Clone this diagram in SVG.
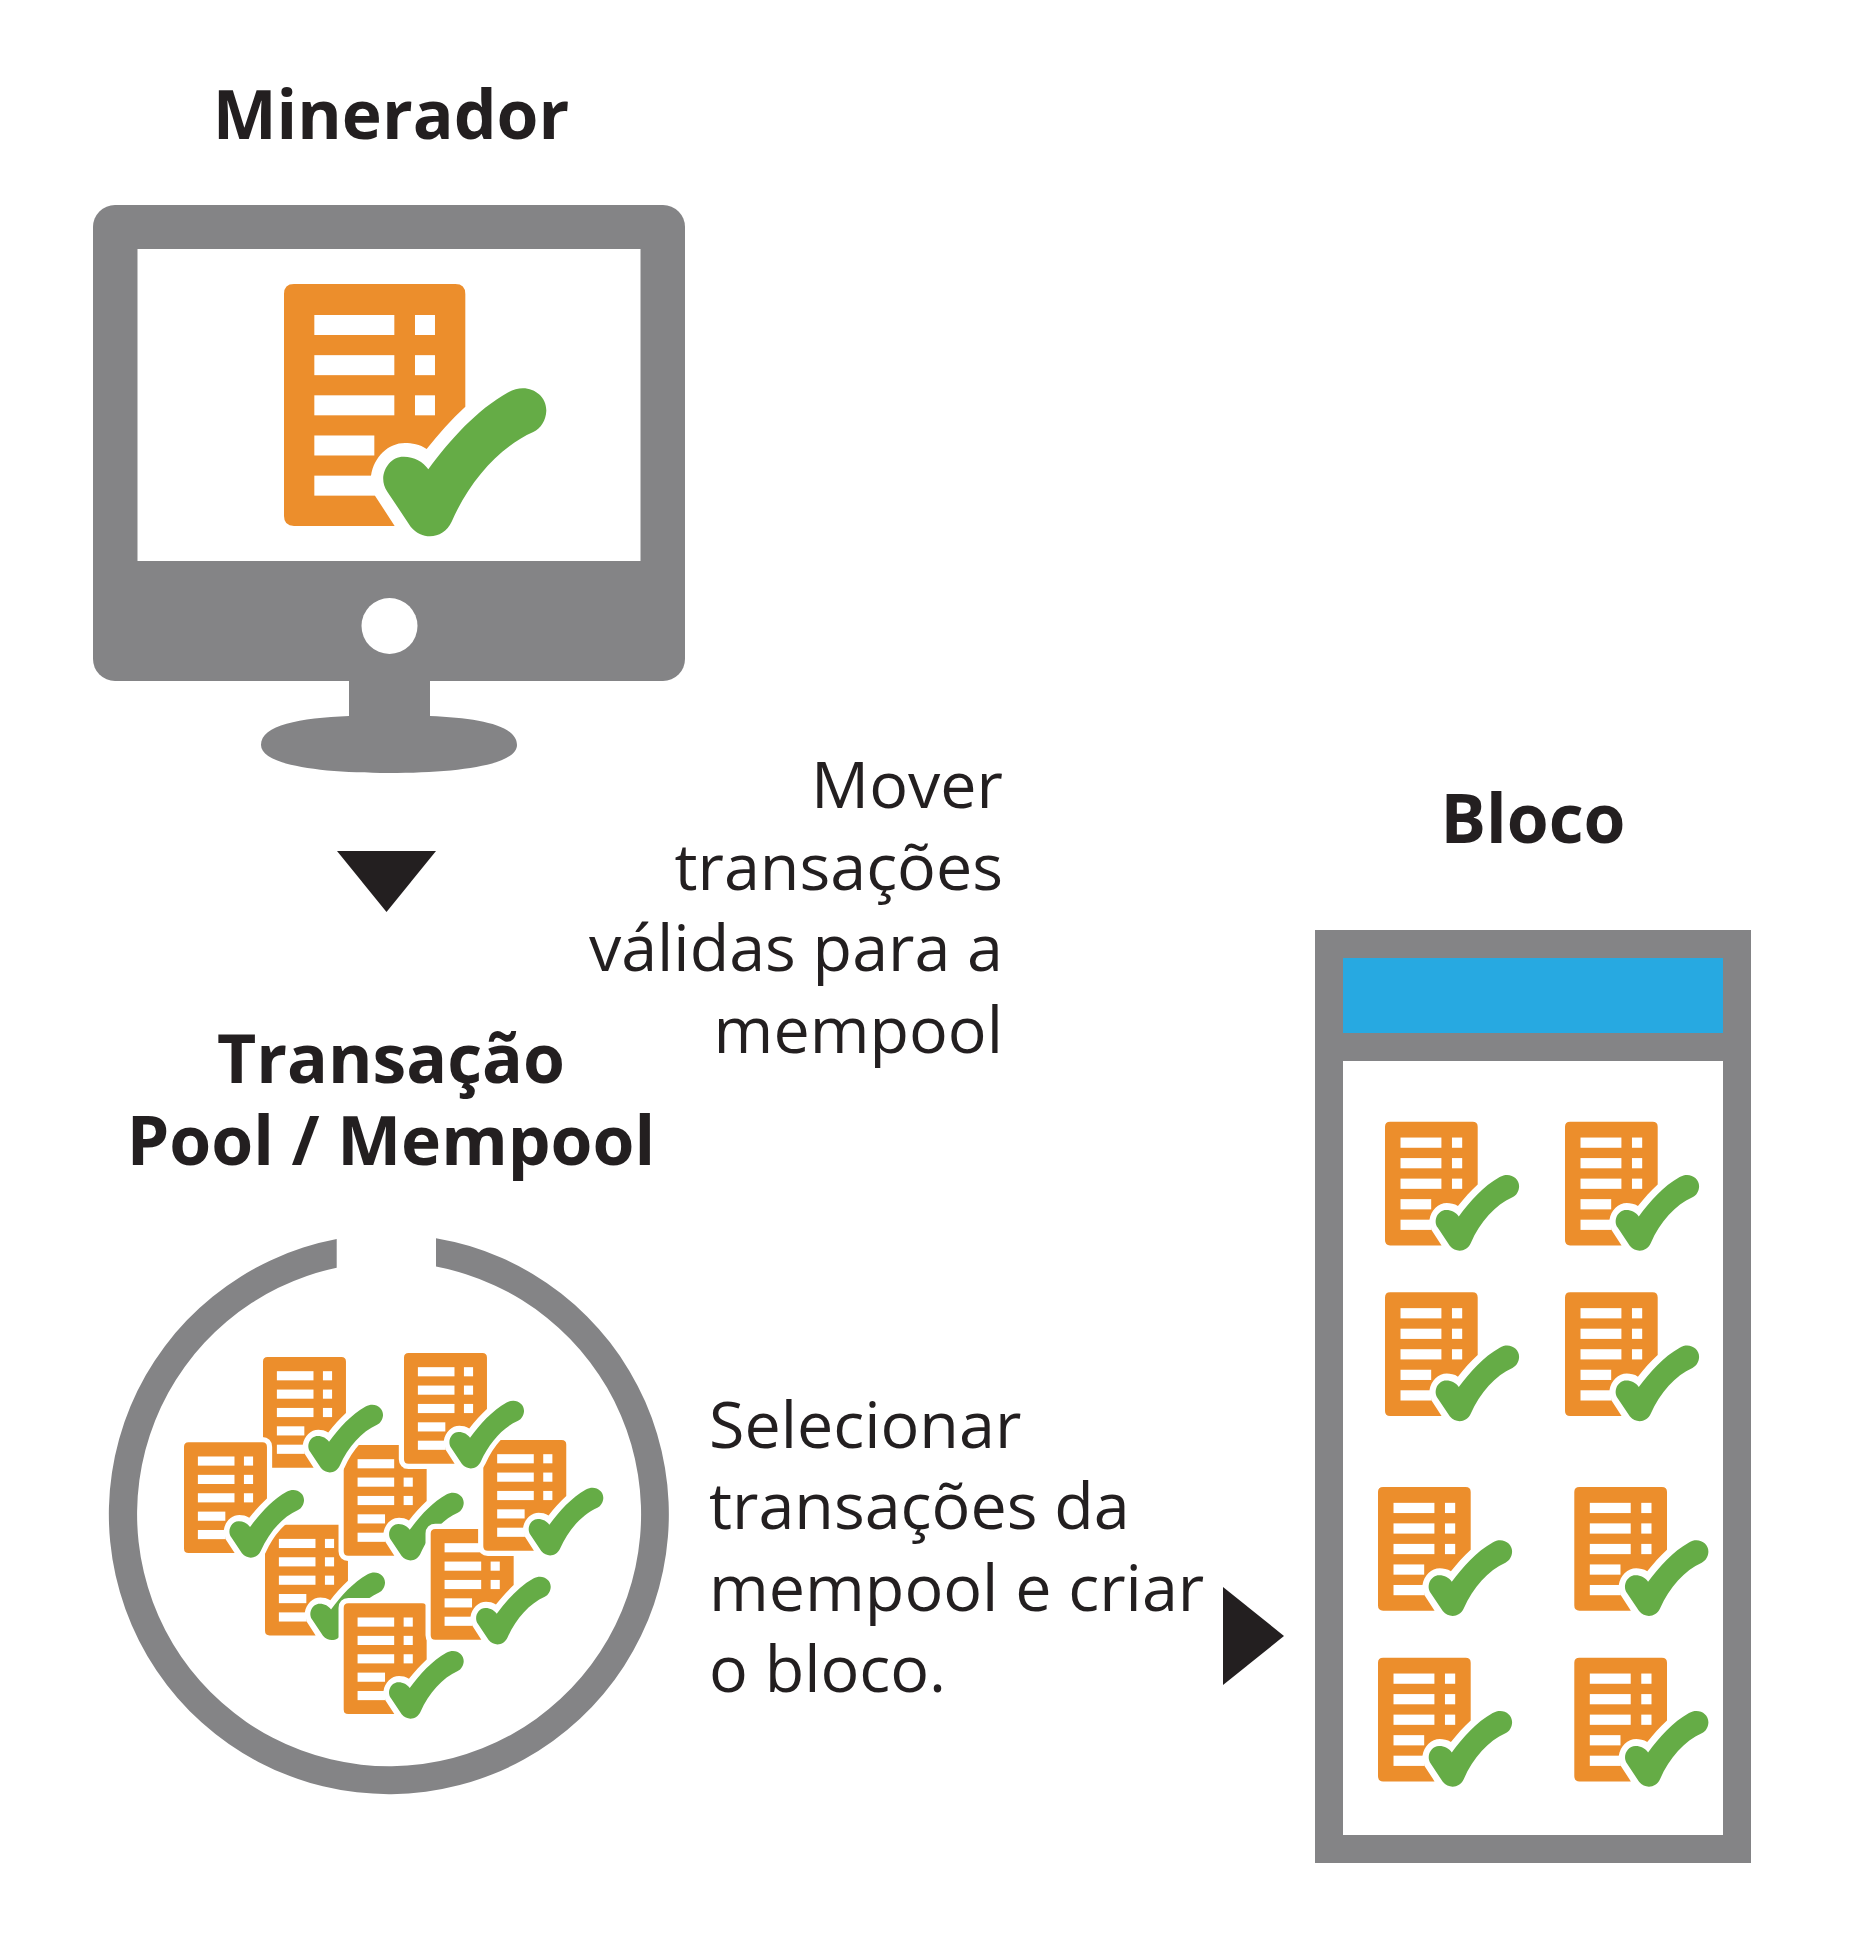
<svg xmlns="http://www.w3.org/2000/svg" xmlns:xlink="http://www.w3.org/1999/xlink" width="1850" height="1956" viewBox="0 0 1850 1956">
<style>
text{font-family:"Open Sans","Noto Sans",sans-serif;fill:#231f20}
.t{font-weight:700;font-size:67.800px;text-anchor:middle}
.b{font-size:64.600px}
.r{text-anchor:end}
.g{fill:#848486}
.w{fill:#fff}
.arrow{fill:#231f20}
.halo{fill:#fff;stroke:#fff;stroke-width:68;stroke-linejoin:round}
.doc{fill:#ec8e2c}
.chk{fill:#65ac46}
</style>
<defs>
<path id="docShape" d="M102 72H586Q616 72 616 102V440C575 478 535 522 500 567C480 553 455 549 435 549C385 549 342 590 333 647L345 707L404 798H102Q72 798 72 768V102Q72 72 102 72Z"/>
<path id="chkShape" d="M505 628C570 540 650 450 745 397C800 365 860 400 859 452C858 480 843 505 820 516C720 560 630 660 575 785C552 835 490 845 452 800L382 695C350 650 385 588 432 590C462 590 490 605 505 628Z"/>
<g id="icon" transform="translate(-72 -72)">
<use href="#docShape" class="halo"/>
<use href="#chkShape" class="halo"/>
<use href="#docShape" class="doc"/>
<g class="w">
<rect x="163" y="165" width="240" height="60"/><rect x="465" y="165" width="60" height="60"/>
<rect x="163" y="285.500" width="240" height="60"/><rect x="465" y="285.500" width="60" height="60"/>
<rect x="163" y="406" width="240" height="60"/><rect x="465" y="406" width="60" height="60"/>
<rect x="163" y="526.500" width="180" height="60"/>
<rect x="163" y="647" width="182" height="60"/>
</g>
<use href="#chkShape" class="chk"/>
</g>
</defs>

<g id="miner">
<text class="t" x="391" y="139">Minerador</text>
<path class="g" d="M349 670H430V716C478 718 517 725 517 745C517 765 458 773 389 773C320 773 261 765 261 745C261 725 300 718 349 716Z"/>
<rect class="g" x="93" y="205" width="592" height="476" rx="22" ry="22"/>
<rect class="w" x="137.500" y="249" width="503" height="312"/>
<circle class="w" cx="389.500" cy="626" r="28"/>
<use href="#icon" transform="translate(284 284) scale(.3333)"/>
</g>

<g id="connectors">
<polygon class="arrow" points="337,851 436,851 386.500,912"/>
<polygon class="arrow" points="1223,1587 1284,1636 1223,1685"/>
</g>

<g id="label-move">
<text class="b r" x="1003" y="808">Mover</text>
<text class="b r" x="1003" y="890">transações</text>
<text class="b r" x="1003" y="971">válidas para a</text>
<text class="b r" x="1003" y="1053">mempool</text>
</g>

<g id="label-select">
<text class="b" x="709" y="1448">Selecionar</text>
<text class="b" x="709" y="1529">transações da</text>
<text class="b" x="709" y="1611">mempool e criar</text>
<text class="b" x="709" y="1692">o bloco.</text>
</g>

<g id="mempool">
<text class="t" x="391" y="1083">Transação</text>
<text class="t" x="391" y="1165">Pool / Mempool</text>
<path class="g" d="M436 1238.200A280 280 0 1 1 336.700 1239.100V1267.700A252 252 0 1 0 436 1266.600Z"/>
<g id="tx-5"><use href="#icon" transform="translate(265 1524.700) scale(.1525)"/></g>
<g id="tx-8"><use href="#icon" transform="translate(343.700 1603.300) scale(.1525)"/></g>
<g id="tx-4"><use href="#icon" transform="translate(343.700 1445) scale(.1525)"/></g>
<g id="tx-7"><use href="#icon" transform="translate(430.700 1529) scale(.1525)"/></g>
<g id="tx-1"><use href="#icon" transform="translate(263 1357) scale(.1525)"/></g>
<g id="tx-3"><use href="#icon" transform="translate(184 1442.300) scale(.1525)"/></g>
<g id="tx-6"><use href="#icon" transform="translate(483.300 1440) scale(.1525)"/></g>
<g id="tx-2"><use href="#icon" transform="translate(404 1353) scale(.1525)"/></g>
</g>

<g id="block">
<text class="t" x="1533" y="843">Bloco</text>
<rect class="g" x="1315" y="930" width="436" height="933"/>
<rect x="1343" y="958" width="380" height="75" fill="#27a9e1"/>
<rect class="w" x="1343" y="1061" width="380" height="774"/>
<g id="block-tx-1"><use href="#icon" transform="translate(1385 1121.700) scale(.1704)"/></g>
<g id="block-tx-2"><use href="#icon" transform="translate(1565 1121.700) scale(.1704)"/></g>
<g id="block-tx-3"><use href="#icon" transform="translate(1385 1292.300) scale(.1704)"/></g>
<g id="block-tx-4"><use href="#icon" transform="translate(1565 1292.300) scale(.1704)"/></g>
<g id="block-tx-5"><use href="#icon" transform="translate(1378 1487) scale(.1704)"/></g>
<g id="block-tx-6"><use href="#icon" transform="translate(1574.300 1487) scale(.1704)"/></g>
<g id="block-tx-7"><use href="#icon" transform="translate(1378 1657.700) scale(.1704)"/></g>
<g id="block-tx-8"><use href="#icon" transform="translate(1574.300 1657.700) scale(.1704)"/></g>
</g>
</svg>
